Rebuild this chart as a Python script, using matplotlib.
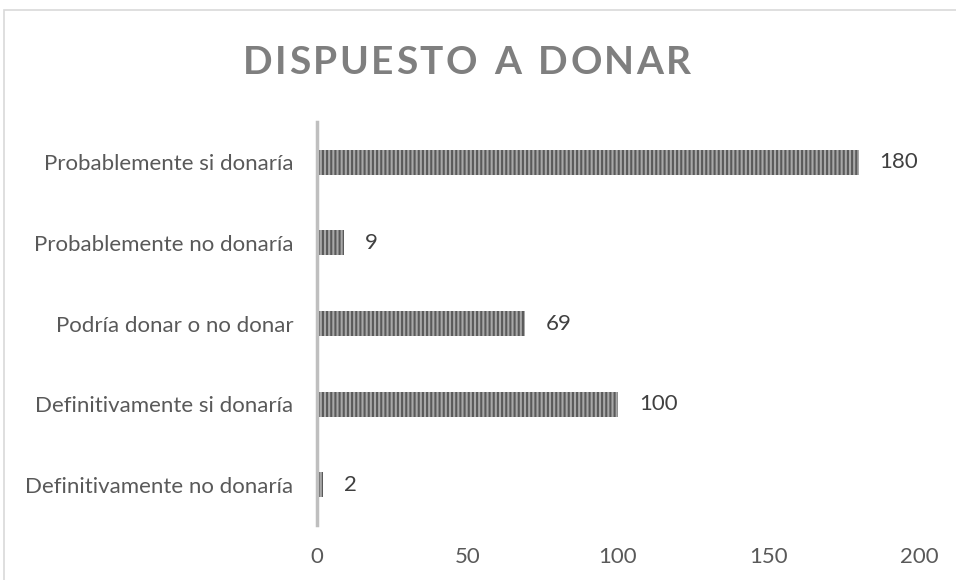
import matplotlib
matplotlib.use("Agg")
import matplotlib.pyplot as plt
from matplotlib.patches import Rectangle

categories = ["Definitivamente no donaría", "Definitivamente si donaría",
              "Podría donar o no donar", "Probablemente no donaría",
              "Probablemente si donaría"]
values = [2, 100, 69, 9, 180]
xticks = [0, 50, 100, 150, 200]
title = "DISPUESTO A DONAR"

plt.rcParams['font.family'] = ['Lato', 'DejaVu Sans']
plt.rcParams['hatch.linewidth'] = 1.5

fig = plt.figure(figsize=(9.56, 5.8), dpi=100)
fig.patches.append(Rectangle((4 / 956, -0.1), 1.2, 1.1 - 10 / 580,
                             transform=fig.transFigure, fill=False,
                             edgecolor='#d9d9d9', linewidth=1.2))

ax = fig.add_axes([317 / 956, 1 - 525 / 580, 602 / 956, 403 / 580])
pos = range(len(categories))
ax.barh(pos, values, height=0.31, color='#a8a8a8', hatch='||||',
        edgecolor='#5a5a5a', linewidth=0)
for p, v in zip(pos, values):
    ax.annotate(str(v), (v, p), xytext=(15, 0), textcoords='offset points',
                va='center', ha='left', fontsize=16, color='#404040')

ax.set_xlim(0, 200)
ax.set_ylim(-0.5, len(categories) - 0.5)
ax.set_xticks(xticks)
ax.set_yticks(list(pos))
ax.set_yticklabels(categories)
ax.tick_params(axis='both', length=0, labelsize=16, labelcolor='#595959')
ax.tick_params(axis='y', pad=17)
ax.tick_params(axis='x', pad=16)
for s in ['top', 'right', 'bottom']:
    ax.spines[s].set_visible(False)
ax.spines['left'].set_color('#bfbfbf')
ax.spines['left'].set_linewidth(2.5)

# title with letter spacing
fig.canvas.draw()
r = fig.canvas.get_renderer()
fs = 28
spacing = 2.5  # px
widths = []
for ch in title:
    t = fig.text(0, 0, ch if ch != ' ' else 'n', fontsize=fs, fontweight='bold')
    bb = t.get_window_extent(r)
    widths.append(bb.width if ch != ' ' else bb.width * 0.55)
    t.remove()
total = sum(widths) + spacing * (len(title) - 1)
x = 467 - total / 2
for ch, w in zip(title, widths):
    if ch != ' ':
        fig.text(x / 956, 1 - 62 / 580, ch, fontsize=fs, fontweight='bold',
                 color='#7f7f7f', ha='left', va='center')
    x += w + spacing

fig.savefig("out.png", dpi=100)
